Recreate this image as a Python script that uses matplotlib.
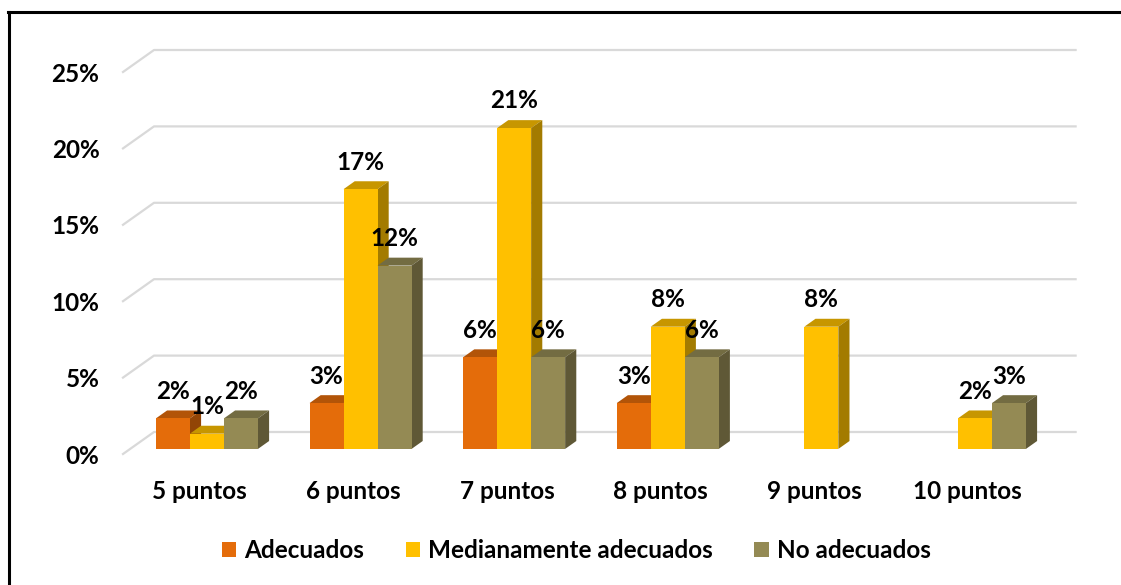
import matplotlib
matplotlib.use('Agg')
import matplotlib.pyplot as plt
from matplotlib.patches import Polygon, Patch
from matplotlib.lines import Line2D
from matplotlib.colors import to_rgb

categories = ['5 puntos', '6 puntos', '7 puntos', '8 puntos', '9 puntos', '10 puntos']
series_names = ['Adecuados', 'Medianamente adecuados', 'No adecuados']
adecuados = [2, 3, 6, 3, None, None]
medianamente = [1, 17, 21, 8, 8, 2]
no_adecuados = [2, 12, 6, 6, None, 3]
yticks = [0, 5, 10, 15, 20, 25]
ytick_labels = ['0%', '5%', '10%', '15%', '20%', '25%']

series = [adecuados, medianamente, no_adecuados]
colors = ['#E46C0A', '#FFC000', '#948A54']

plt.rcParams['font.family'] = ['Lato', 'DejaVu Sans']
plt.rcParams['font.weight'] = 'bold'
FS = 17.5

W_PX, H_PX = 1121, 585
fig = plt.figure(figsize=(W_PX / 100, H_PX / 100), dpi=100)

# pixel geometry of the plot
px_per_cat = 153.6
px_per_pct = 15.28
depth_px = (31, 22)
DX = depth_px[0] / px_per_cat
DY = depth_px[1] / px_per_pct
f0, f1 = 0.23, 0.59          # bar front / back depth fractions
W = 34 / px_per_cat          # bar width

n = len(categories)
x0, x1 = -0.5, n - 0.5 + DX
y0, y1 = 0, 25 + DY
left_px, bottom_px = 123, 454
right_px = left_px + (x1 - x0) * px_per_cat
top_px = bottom_px - (y1 - y0) * px_per_pct
ax = fig.add_axes([left_px / W_PX, 1 - bottom_px / H_PX,
                   (right_px - left_px) / W_PX, (bottom_px - top_px) / H_PX])
ax.set_xlim(x0, x1)
ax.set_ylim(y0, y1)
for s in ax.spines.values():
    s.set_visible(False)

# gridlines (3D wall)
for t in yticks:
    ax.plot([x0, x0 + DX, n - 0.5 + DX], [t, t + DY, t + DY],
            color='#D9D9D9', lw=1.6, clip_on=False, zorder=1)

def shade(c, k):
    r, g, b = to_rgb(c)
    return (r * k, g * k, b * k)

offsets = [-1, 0, 1]
for i in range(n):
    for j, vals in enumerate(series):
        v = vals[i]
        if v is None:
            continue
        c = colors[j]
        xl = i + offsets[j] * W - W / 2 + f0 * DX
        xr = xl + W
        yb = f0 * DY
        yt = v + yb
        ddx = (f1 - f0) * DX
        ddy = (f1 - f0) * DY
        z = 3 + i * 3 + j
        ax.add_patch(Polygon([(xl, yt), (xr, yt), (xr + ddx, yt + ddy), (xl + ddx, yt + ddy)],
                             closed=True, facecolor=shade(c, 0.78), edgecolor='none', zorder=z))
        ax.add_patch(Polygon([(xr, yb), (xr + ddx, yb + ddy), (xr + ddx, yt + ddy), (xr, yt)],
                             closed=True, facecolor=shade(c, 0.64), edgecolor='none', zorder=z))
        ax.bar(xl, v, width=W, bottom=yb, align='edge', color=c, zorder=z + 0.5)
        ax.annotate(f'{v}%', (xl + W / 2, yt), xytext=(0, 19.5), textcoords='offset points',
                    ha='center', va='center', fontsize=FS, fontweight='bold', zorder=50,
                    annotation_clip=False)

ax.set_yticks(yticks)
ax.set_yticklabels(ytick_labels, fontsize=FS, fontweight='bold')
ax.set_xticks(range(n))
ax.set_xticklabels(categories, fontsize=FS, fontweight='bold')
ax.tick_params(axis='y', length=0, pad=17)
ax.tick_params(axis='x', length=0, pad=19)

handles = [Patch(facecolor=c, edgecolor='none') for c in colors]
fig.legend(handles, series_names, loc='center', bbox_to_anchor=(576 / W_PX, 1 - 551 / H_PX),
           ncol=3, frameon=False, handlelength=0.61, handleheight=0.58,
           handletextpad=0.3, columnspacing=1.73, prop={'weight': 'bold', 'size': FS})

# outer border (left and top)
fig.add_artist(Line2D([8.5 / W_PX, 8.5 / W_PX], [0, 1 - 12 / H_PX], color='black', lw=2.2,
                      transform=fig.transFigure))
fig.add_artist(Line2D([7.5 / W_PX, 1], [1 - 12 / H_PX, 1 - 12 / H_PX], color='black', lw=2.2,
                      transform=fig.transFigure))

fig.savefig('out.png', dpi=100, facecolor='white')
